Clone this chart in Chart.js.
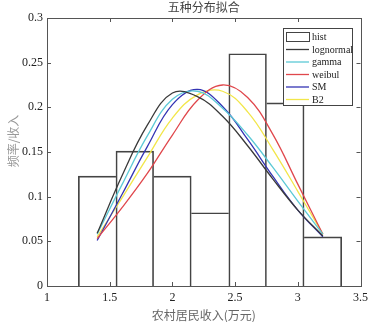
<!DOCTYPE html>
<html>
<head>
<meta charset="utf-8">
<script src="https://cdn.jsdelivr.net/npm/chart.js@4.4.1/dist/chart.umd.min.js"></script>
<style>
  html, body { margin: 0; padding: 0; background: #fff; }
  #wrap { width: 373px; height: 322px; }
</style>
</head>
<body>
<div id="wrap"><canvas id="chart" width="373" height="322"></canvas></div>
<script>
// histogram: bin centres (width 0.3) and relative frequency
const binCenters = [1.4, 1.7, 2.0, 2.3, 2.6, 2.9, 3.2];
const histFreq = [0.123, 0.151, 0.123, 0.082, 0.260, 0.205, 0.055];

// fitted curves
const fitX = [1.4, 1.6, 1.8, 2.0, 2.2, 2.4, 2.6, 2.8, 3.0, 3.2];
const lognormalY = [0.059, 0.124, 0.180, 0.216, 0.212, 0.190, 0.157, 0.120, 0.085, 0.056];
const gammaY = [0.058, 0.114, 0.168, 0.209, 0.218, 0.199, 0.169, 0.133, 0.095, 0.058];
const weibullY = [0.053, 0.088, 0.126, 0.169, 0.208, 0.225, 0.211, 0.170, 0.114, 0.058];
const smY = [0.051, 0.103, 0.156, 0.203, 0.220, 0.201, 0.164, 0.123, 0.085, 0.055];
const b2Y = [0.055, 0.099, 0.144, 0.188, 0.214, 0.218, 0.195, 0.153, 0.106, 0.058];

const xTicks = [1, 1.5, 2, 2.5, 3, 3.5];
const yTicks = [0, 0.05, 0.1, 0.15, 0.2, 0.25, 0.3];

const titleText = "五种分布拟合";
const xTitle = "农村居民收入(万元)";
const yTitle = "频率/收入";

const legendLabels = ["hist", "lognormal", "gamma", "weibul", "SM", "B2"];
const curveColors = ["#3a3a3a", "#5cc9d6", "#e0474c", "#3434b4", "#f2e64a"];

const SERIF = "'Liberation Serif', 'DejaVu Serif', serif";
const CJK = "'Noto Sans CJK SC', sans-serif";

function pts(ys) {
  return fitX.map((x, i) => ({ x: x, y: ys[i] }));
}

// each shared bin edge is drawn once, by the taller neighbour
function histBorder(ctx) {
  const i = ctx.dataIndex;
  const h = histFreq[i];
  const left = (i === 0 || h >= histFreq[i - 1]) ? 1 : 0;
  const right = (i === histFreq.length - 1 || h > histFreq[i + 1]) ? 1 : 0;
  return { top: 1, left: left, right: right, bottom: 0 };
}

function curve(label, ys, color) {
  return {
    type: "line",
    label: label,
    data: pts(ys),
    borderColor: color,
    borderWidth: 1.3,
    pointRadius: 0,
    tension: 0.4,
    fill: false,
    order: 1
  };
}

// MATLAB style box, inward ticks, legend and titles
const decorPlugin = {
  id: "decor",
  afterDatasetsDraw(chart) {
    const { ctx, chartArea: a, scales } = chart;
    const xs = scales.x, ys = scales.y;
    ctx.save();

    // box
    ctx.strokeStyle = "#555";
    ctx.lineWidth = 1;
    ctx.strokeRect(Math.round(a.left) + 0.5, Math.round(a.top) + 0.5,
      Math.round(a.right - a.left), Math.round(a.bottom - a.top));

    // inward ticks on all sides
    const tl = 4;
    ctx.beginPath();
    xTicks.forEach(v => {
      const px = Math.round(xs.getPixelForValue(v)) + 0.5;
      ctx.moveTo(px, a.bottom); ctx.lineTo(px, a.bottom - tl);
      ctx.moveTo(px, a.top); ctx.lineTo(px, a.top + tl);
    });
    yTicks.forEach(v => {
      const py = Math.round(ys.getPixelForValue(v)) + 0.5;
      ctx.moveTo(a.left, py); ctx.lineTo(a.left + tl, py);
      ctx.moveTo(a.right, py); ctx.lineTo(a.right - tl, py);
    });
    ctx.stroke();

    // legend
    const lx = 283.5, ly = 28.5, lw = 69, lh = 77;
    ctx.fillStyle = "#fff";
    ctx.fillRect(lx, ly, lw, lh);
    ctx.strokeStyle = "#444";
    ctx.strokeRect(lx, ly, lw, lh);
    ctx.font = "10px " + SERIF;
    ctx.textBaseline = "middle";
    ctx.textAlign = "left";
    legendLabels.forEach((lab, i) => {
      const cy = ly + 8.5 + i * 12.5;
      if (i === 0) {
        ctx.strokeStyle = "#444";
        ctx.strokeRect(286.5, cy - 4.5, 23, 9);
      } else {
        ctx.strokeStyle = curveColors[i - 1];
        ctx.lineWidth = 1.3;
        ctx.beginPath();
        ctx.moveTo(286, cy); ctx.lineTo(309, cy);
        ctx.stroke();
        ctx.lineWidth = 1;
      }
      ctx.fillStyle = "#222";
      ctx.fillText(lab, 312, cy + 0.5);
    });

    // titles
    const cx = (a.left + a.right) / 2;
    ctx.textAlign = "center";
    ctx.font = "12px " + CJK;
    ctx.fillStyle = "#444";
    ctx.fillText(titleText, cx, 7);
    ctx.fillStyle = "#666";
    ctx.fillText(xTitle, cx, 315);
    ctx.save();
    ctx.translate(13, 141);
    ctx.rotate(-Math.PI / 2);
    ctx.fillStyle = "#999";
    ctx.fillText(yTitle, 0, 0);
    ctx.restore();

    ctx.restore();
  }
};

new Chart(document.getElementById("chart"), {
  type: "line",
  data: {
    datasets: [
      {
        type: "bar",
        label: "hist",
        data: binCenters.map((x, i) => ({ x: x, y: histFreq[i] })),
        backgroundColor: "rgba(255,255,255,0)",
        borderColor: "#444",
        borderWidth: histBorder,
        borderSkipped: false,
        barPercentage: 1,
        categoryPercentage: 1,
        order: 2
      },
      curve("lognormal", lognormalY, curveColors[0]),
      curve("gamma", gammaY, curveColors[1]),
      curve("weibul", weibullY, curveColors[2]),
      curve("SM", smY, curveColors[3]),
      curve("B2", b2Y, curveColors[4])
    ]
  },
  options: {
    responsive: false,
    animation: false,
    devicePixelRatio: 1,
    layout: { padding: { left: 0, top: 18, right: 11, bottom: 0 } },
    plugins: {
      legend: { display: false },
      title: { display: false },
      tooltip: { enabled: false }
    },
    scales: {
      x: {
        type: "linear",
        min: 1,
        max: 3.5,
        offset: false,
        afterBuildTicks: s => { s.ticks = xTicks.map(v => ({ value: v })); },
        afterFit: s => { s.height = 36; },
        grid: { display: false, drawTicks: false },
        border: { display: false },
        ticks: {
          padding: 5,
          color: "#222",
          font: { family: SERIF, size: 12 },
          maxRotation: 0,
          callback: v => String(+v.toFixed(2))
        }
      },
      y: {
        type: "linear",
        min: 0,
        max: 0.3,
        afterBuildTicks: s => { s.ticks = yTicks.map(v => ({ value: v })); },
        afterFit: s => { s.width = 47; },
        grid: { display: false, drawTicks: false },
        border: { display: false },
        ticks: {
          padding: 4,
          color: "#222",
          font: { family: SERIF, size: 12 },
          callback: v => String(+v.toFixed(2))
        }
      }
    }
  },
  plugins: [decorPlugin]
});
</script>
</body>
</html>
